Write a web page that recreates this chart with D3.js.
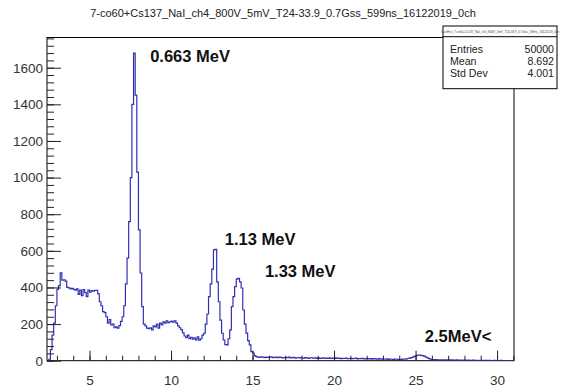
<!DOCTYPE html>
<html>
<head>
<meta charset="utf-8">
<script src="https://cdn.jsdelivr.net/npm/d3@7"></script>
<style>
  body { margin: 0; background: #fff; }
  svg { display: block; font-family: "Liberation Sans", Arial, sans-serif; }
</style>
</head>
<body>
<div id="chart"></div>
<script>
// histogram: bins of 0.1 starting at 2.4 (one row = one unit)
let binStart = 2.4;
let binWidth = 0.1;
let counts = [
    0, 8, 60, 140, 205, 300,
    390, 410, 480, 440, 442, 435, 400, 398, 392, 395,
    390, 385, 392, 362, 385, 355, 388, 372, 350, 385,
    375, 383, 380, 384, 384, 365, 322, 300, 268, 262,
    240, 205, 225, 195, 200, 180, 185, 178, 192, 215,
    240, 300, 420, 560, 760, 1000, 1400, 1680, 1450, 1030,
    714, 479, 295, 200, 190, 178, 175, 180, 168, 190,
    185, 200, 178, 205, 195, 212, 205, 218, 208, 212,
    216, 210, 218, 205, 190, 180, 170, 152, 135, 126,
    140, 120, 128, 118, 125, 114, 130, 112, 120, 140,
    150, 200, 255, 350, 420, 500, 605, 608, 430, 322,
    222, 150, 113, 88, 86, 120, 168, 295, 350, 404,
    445, 450, 430, 397, 277, 200, 151, 110, 86, 50,
    42, 28, 22, 20, 18, 21, 19, 17, 20, 18,
    19, 21, 17, 18, 20, 16, 19, 18, 15, 17,
    18, 16, 19, 15, 17, 18, 14, 16, 17, 15,
    16, 14, 17, 15, 13, 16, 15, 14, 16, 13,
    15, 13, 14, 16, 12, 14, 13, 15, 12, 14,
    13, 15, 12, 14, 11, 13, 12, 14, 11, 12,
    13, 11, 12, 14, 10, 12, 11, 13, 10, 11,
    12, 10, 11, 9, 12, 10, 9, 11, 8, 10,
    9, 8, 10, 7, 9, 8, 7, 9, 8, 7,
    8, 7, 9, 8, 10, 12, 14, 17, 20, 24,
    27, 30, 31, 29, 28, 25, 20, 15, 11, 8,
    6, 5, 6, 4, 5, 4, 5, 3, 4, 5,
    4, 3, 4, 3, 3, 4, 2, 3, 3, 2,
    3, 2, 3, 2, 2, 3, 2, 2, 1, 2,
    2, 1, 2, 2, 1, 2, 1, 1, 2, 1,
    1, 1, 2, 1, 1, 1, 0, 1, 1, 1
];

let xDomain = [2.39, 31.04];
let yDomain = [0, 1765];
let xMajorTicks = [5, 10, 15, 20, 25, 30];
let yMajorTicks = [0, 200, 400, 600, 800, 1000, 1200, 1400, 1600];

let titleText = '7-co60+Cs137_NaI_ch4_800V_5mV_T24-33.9_0.7Gss_599ns_16122019_0ch';
let statsLabels = ['Entries', 'Mean', 'Std Dev'];
let statsValues = ['50000', '8.692', '4.001'];
let peakLabels = [
    { text: '0.663 MeV', x: 8.72, y: 1631 },
    { text: '1.13 MeV', x: 13.3, y: 632 },
    { text: '1.33 MeV', x: 15.76, y: 457 },
    { text: '2.5MeV<', x: 25.57, y: 102 }
];

let width = 565;
let height = 388;
let plot = { left: 47, right: 514, top: 37.5, bottom: 360.7 };

let svg = d3.select('#chart')
    .append('svg')
    .attr('width', width)
    .attr('height', height);

let xScale = d3.scaleLinear().domain(xDomain).range([plot.left, plot.right]);
let yScale = d3.scaleLinear().domain(yDomain).range([plot.bottom, plot.top]);

// frame
svg.append('rect')
    .attr('x', plot.left)
    .attr('y', plot.top)
    .attr('width', plot.right - plot.left)
    .attr('height', plot.bottom - plot.top)
    .attr('fill', 'none')
    .attr('stroke', '#000')
    .attr('stroke-width', 1);

svg.append('clipPath').attr('id', 'clip')
    .append('rect')
    .attr('x', plot.left)
    .attr('y', plot.top)
    .attr('width', plot.right - plot.left)
    .attr('height', plot.bottom - plot.top);

// histogram steps
let pts = counts.map((c, i) => ({ x: binStart + i * binWidth, y: c }));
pts.push({ x: binStart + counts.length * binWidth, y: counts[counts.length - 1] });
let stepLine = d3.line()
    .x(d => xScale(d.x))
    .y(d => yScale(d.y))
    .curve(d3.curveStepAfter);
svg.append('path')
    .attr('clip-path', 'url(#clip)')
    .attr('d', stepLine(pts))
    .attr('fill', 'none')
    .attr('stroke', '#2f2fb5')
    .attr('stroke-width', 1.2);

// axes with inward ticks (ROOT style)
let xMinor = d3.range(3, 32, 1).filter(v => v <= xDomain[1]);
let yMinor = d3.range(0, 1761, 40);

let xAxisMinor = svg.append('g')
    .attr('transform', `translate(0,${plot.bottom})`)
    .call(d3.axisBottom(xScale).tickValues(xMinor).tickSize(-5).tickFormat(''));
let xAxisMajor = svg.append('g')
    .attr('transform', `translate(0,${plot.bottom})`)
    .call(d3.axisBottom(xScale).tickValues(xMajorTicks).tickSize(-10).tickPadding(15).tickFormat(d3.format('d')));
let yAxisMinor = svg.append('g')
    .attr('transform', `translate(${plot.left},0)`)
    .call(d3.axisLeft(yScale).tickValues(yMinor).tickSize(-7).tickFormat(''));
let yAxisMajor = svg.append('g')
    .attr('transform', `translate(${plot.left},0)`)
    .call(d3.axisLeft(yScale).tickValues(yMajorTicks).tickSize(-14).tickPadding(4).tickFormat(d3.format('d')));

[xAxisMinor, xAxisMajor, yAxisMinor, yAxisMajor].forEach(g => {
    g.select('.domain').remove();
    g.selectAll('line').attr('stroke', '#222');
    g.selectAll('text')
        .attr('font-family', '"Liberation Sans", Arial, sans-serif')
        .attr('font-size', 13.5)
        .attr('fill', '#333');
});

// title
svg.append('text')
    .attr('x', 283)
    .attr('y', 17)
    .attr('text-anchor', 'middle')
    .attr('font-size', 11)
    .attr('fill', '#222')
    .text(titleText);

// peak labels
svg.selectAll('.peak')
    .data(peakLabels)
    .enter()
    .append('text')
    .classed('peak', true)
    .attr('x', d => xScale(d.x))
    .attr('y', d => yScale(d.y))
    .attr('font-size', 16.5)
    .attr('font-weight', 'bold')
    .attr('fill', '#111')
    .text(d => d.text);

// stats box
let box = { x: 443, y: 26, w: 114, h: 62.7 };
let stats = svg.append('g');
stats.append('rect')
    .attr('x', box.x).attr('y', box.y)
    .attr('width', box.w).attr('height', box.h)
    .attr('fill', '#fff')
    .attr('stroke', '#000');
stats.append('line')
    .attr('x1', box.x).attr('x2', box.x + box.w)
    .attr('y1', 36.7).attr('y2', 36.7)
    .attr('stroke', '#000');
stats.append('text')
    .attr('x', box.x + box.w / 2)
    .attr('y', 33)
    .attr('text-anchor', 'middle')
    .attr('font-size', 3)
    .attr('fill', '#444')
    .text('CustHist_' + titleText);
statsLabels.forEach((lab, i) => {
    stats.append('text')
        .attr('x', box.x + 7)
        .attr('y', 52.8 + i * 12.3)
        .attr('font-size', 10.6)
        .attr('fill', '#222')
        .text(lab);
    stats.append('text')
        .attr('x', box.x + box.w - 3)
        .attr('y', 52.8 + i * 12.3)
        .attr('text-anchor', 'end')
        .attr('font-size', 10.6)
        .attr('fill', '#222')
        .text(statsValues[i]);
});
</script>
</body>
</html>
